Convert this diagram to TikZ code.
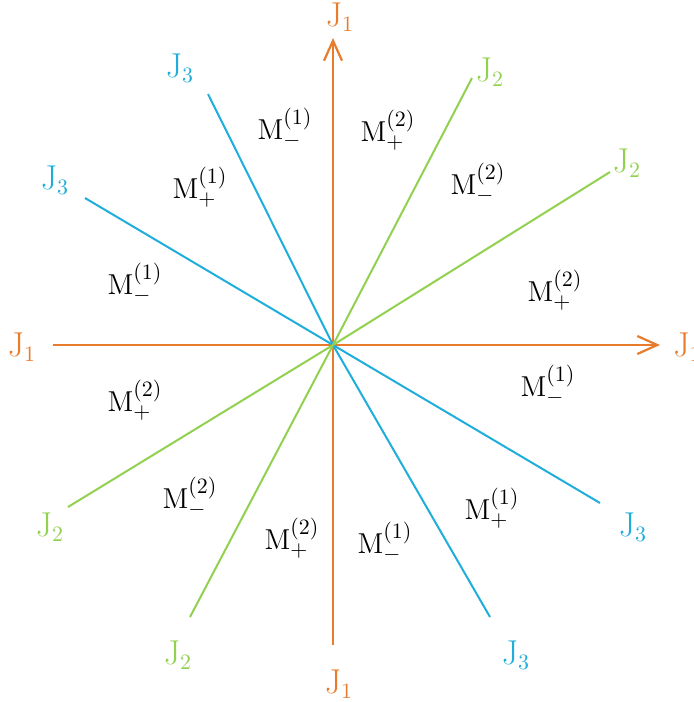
\documentclass[tikz,border=0pt]{standalone}
\usetikzlibrary{arrows.meta}
\definecolor{jorange}{HTML}{E97B2C}
\definecolor{jblue}{HTML}{1FAEDB}
\definecolor{jgreen}{HTML}{92D050}
\tikzset{
  axis/.style={draw=jorange, line width=1.1pt, -{Straight Barb[length=10pt,width=9pt,line width=1.1pt]}},
  bline/.style={draw=jblue, line width=1pt},
  gline/.style={draw=jgreen, line width=1pt},
  jlab/.style={font=\fontsize{16}{18}\selectfont, inner sep=0pt},
  mlab/.style={font=\fontsize{15}{17}\selectfont, inner sep=0pt},
}
\begin{document}
\begin{tikzpicture}[x=0.5pt, y=-0.5pt]
\useasboundingbox (0,0) rectangle (693,702);
\coordinate (O) at (333,345);
% orange axes
\coordinate (vb) at (333,645);
\coordinate (vt) at (333,38);
\coordinate (hl) at (53,345);
\coordinate (hr) at (660,345);
\draw[axis] (vb) -- (vt);
\draw[axis] (hl) -- (hr);
% blue lines
\coordinate (b1a) at (85,198);
\coordinate (b1b) at (600,503);
\coordinate (b2a) at (208,94);
\coordinate (b2b) at (490,617);
\draw[bline] (b1a) -- (O) -- (b1b);
\draw[bline] (b2a) -- (O) -- (b2b);
% green lines
\coordinate (g1a) at (472,78);
\coordinate (g1b) at (190,617);
\coordinate (g2a) at (610,172);
\coordinate (g2b) at (68,507);
\draw[gline] (g1a) -- (O) -- (g1b);
\draw[gline] (g2a) -- (O) -- (g2b);
% J labels
\node[jlab, text=jorange] (lt) at (340,17) {$\mathrm{J}_1$};
\node[jlab, text=jorange] (ll) at (22,347) {$\mathrm{J}_1$};
\node[jlab, text=jorange, anchor=west] (lr) at (673,347) {$\mathrm{J}_1$};
\node[jlab, text=jorange] (lb) at (339,684) {$\mathrm{J}_1$};
\node[jlab, text=jblue] (b1) at (180,68) {$\mathrm{J}_3$};
\node[jlab, text=jblue] (b2) at (55,180) {$\mathrm{J}_3$};
\node[jlab, text=jblue] (b3) at (633,527) {$\mathrm{J}_3$};
\node[jlab, text=jblue] (b4) at (516,655) {$\mathrm{J}_3$};
\node[jlab, text=jgreen] (g1) at (490,72) {$\mathrm{J}_2$};
\node[jlab, text=jgreen] (g2) at (627,163) {$\mathrm{J}_2$};
\node[jlab, text=jgreen] (g3) at (50,527) {$\mathrm{J}_2$};
\node[jlab, text=jgreen] (g4) at (178,655) {$\mathrm{J}_2$};
% M labels
\node[mlab] (m1) at (285,128) {$\mathrm{M}_{-}^{(1)}$};
\node[mlab] (m2) at (388,130) {$\mathrm{M}_{+}^{(2)}$};
\node[mlab] (m3) at (200,187) {$\mathrm{M}_{+}^{(1)}$};
\node[mlab] (m4) at (478,183) {$\mathrm{M}_{-}^{(2)}$};
\node[mlab] (m5) at (135,283) {$\mathrm{M}_{-}^{(1)}$};
\node[mlab] (m6) at (555,290) {$\mathrm{M}_{+}^{(2)}$};
\node[mlab] (m7) at (135,400) {$\mathrm{M}_{+}^{(2)}$};
\node[mlab] (m8) at (548,385) {$\mathrm{M}_{-}^{(1)}$};
\node[mlab] (m9) at (190,497) {$\mathrm{M}_{-}^{(2)}$};
\node[mlab] (m10) at (492,508) {$\mathrm{M}_{+}^{(1)}$};
\node[mlab] (m11) at (292,538) {$\mathrm{M}_{+}^{(2)}$};
\node[mlab] (m12) at (385,542) {$\mathrm{M}_{-}^{(1)}$};
\end{tikzpicture}
\end{document}
